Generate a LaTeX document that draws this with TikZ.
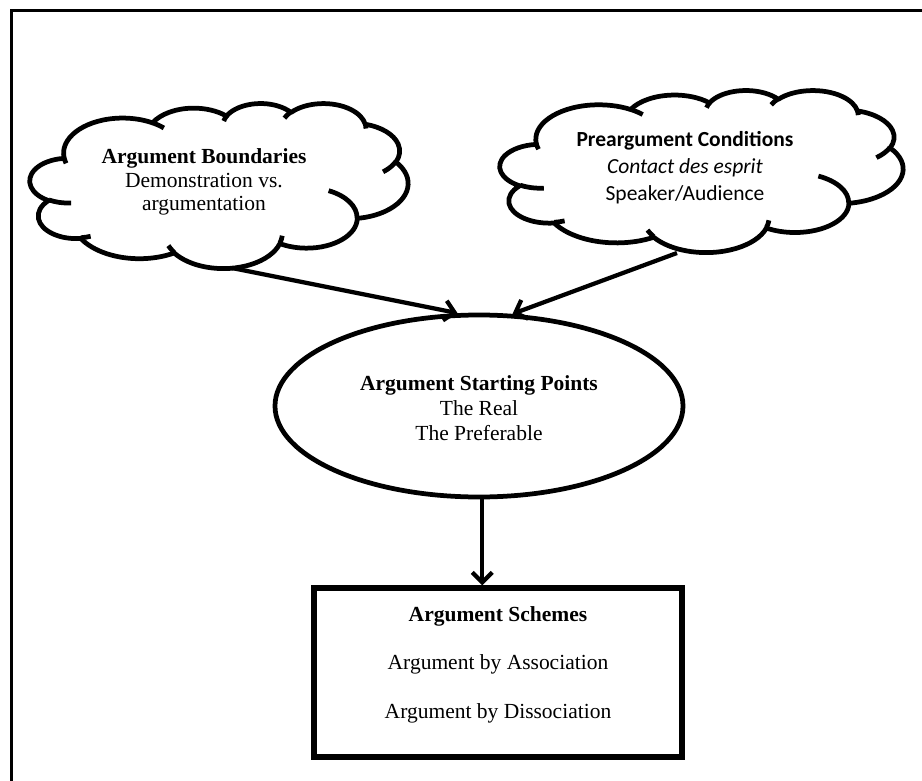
\documentclass[tikz,border=0pt]{standalone}
\usepackage{fontspec}
\setmainfont{Liberation Serif}
\newfontfamily\calibri{Carlito}
\usetikzlibrary{arrows.meta,shapes.geometric}

% One arc of a cloud outline: radii in path units (432 across),
% start and sweep given as angles seen on the ellipse.
\newcommand\cloudarc[4]{%
  \pgfmathsetmacro\cloudA{atan2((#1)*sin(#3),(#2)*cos(#3))}%
  \pgfmathsetmacro\cloudB{atan2((#1)*sin((#3)+(#4)),(#2)*cos((#3)+(#4)))}%
  \pgfmathsetmacro\cloudB{\cloudB+360*round(((#4)-(\cloudB-\cloudA))/360)}%
  \pgfpatharcaxes{\cloudA}{\cloudB}{\pgfpointxy{#1}{0}}{\pgfpointxy{0}{#2}}%
}
% A short inner curl: start point, then its arc
\newcommand\cloudcurl[6]{%
  \pgfpathmoveto{\pgfpointxy{#1}{#2}}\cloudarc{#3}{#4}{#5}{#6}}

% Cloud in a frame: left, top, width, height (pt, top measured downward)
\newcommand\drawcloud[4]{%
  \begin{pgfscope}
    \pgftransformshift{\pgfpoint{#1pt}{-#2pt}}%
    \pgfsetxvec{\pgfpoint{#3pt/432}{0pt}}%
    \pgfsetyvec{\pgfpoint{0pt}{-#4pt/432}}%
    \pgfsetlinewidth{4.75pt}%
    \pgfsetroundjoin
    \pgfsetfillcolor{white}%
    \pgfpathmoveto{\pgfpointxy{39}{143.7}}%
    \cloudarc{67.53}{91.90}{-190.48748}{123.78053}%
    \cloudarc{53.33}{72.67}{-144.10238}{89.94523}%
    \cloudarc{43.65}{59.45}{-145.80792}{99.72302}%
    \cloudarc{48.57}{65.95}{-130.98607}{117.24173}%
    \cloudarc{53.33}{72.73}{-78.70888}{109.02692}%
    \cloudarc{67.75}{92.20}{-46.26725}{130.26900}%
    \cloudarc{57.85}{78.67}{0.62502}{114.03333}%
    \cloudarc{67.52}{92.15}{22.45160}{115.17255}%
    \cloudarc{77.20}{105.43}{66.24263}{75.71102}%
    \cloudarc{43.60}{59.18}{-274.94208}{146.73557}%
    \cloudarc{43.45}{59.45}{-246.82850}{152.51885}%
    \pgfpathclose
    \pgfusepath{fill,stroke}%
    \cloudcurl{46.93}{261.77}{43.45}{59.45}{86.74200}{26.42950}%
    \cloudcurl{69.28}{348.99}{43.60}{59.18}{73.61047}{11.44747}%
    \cloudcurl{164.78}{390.90}{67.52}{92.15}{137.62415}{14.08110}%
    \cloudcurl{288.27}{347.51}{67.52}{92.15}{6.45327}{15.99835}%
    \cloudcurl{341.29}{229.54}{57.85}{78.67}{-70.29235}{70.91737}%
    \cloudcurl{417.98}{153.54}{53.33}{72.73}{30.31803}{27.75150}%
    \cloudcurl{383.24}{54.26}{48.57}{65.95}{-13.74433}{14.85890}%
    \cloudcurl{290.78}{39.52}{48.57}{65.95}{-149.18145}{18.19537}%
    \cloudcurl{221.41}{47.20}{43.65}{59.45}{-163.49427}{17.68635}%
    \cloudcurl{140.00}{51.92}{67.53}{91.90}{-66.70695}{12.31935}%
    \cloudcurl{41.27}{157.89}{67.53}{91.90}{157.65435}{11.85817}%
    \pgfusepath{stroke}%
  \end{pgfscope}}

\tikzset{
  txt/.style={align=center, inner sep=0pt},
  serif/.style={font=\fontsize{21.5}{#1}\selectfont},
  conn/.style={line width=4.25pt, -{Straight Barb[length=10pt,width=20pt]}},
}

\begin{document}
\begin{tikzpicture}[x=1pt, y=-1pt]
  \useasboundingbox (0,0) rectangle (922,781);

  % page rule along the top and left
  \draw[line width=3pt] (922,11) -- (11,11) -- (11,781);

  % clouds
  \drawcloud{30}{103}{378}{165}
  \drawcloud{500}{90}{403}{162}
  \node[txt, serif=23.3] (bnd) at (204,182)
    {\textbf{Argument Boundaries}\\Demonstration vs.\\argumentation};
  \node[txt, font=\calibri\fontsize{21.5}{27}\selectfont] (pre) at (685,168)
    {\textbf{Preargument Conditions}\\\textit{Contact des esprit}\\Speaker/Audience};

  % starting points
  \node[ellipse, draw, line width=4.75pt, fill=white,
        minimum width=408, minimum height=182] (ell) at (479,406) {};
  \node[txt, serif=25] (elltxt) at (479,408)
    {\textbf{Argument Starting Points}\\The Real\\The Preferable};

  % schemes
  \node[draw, line width=5.25pt, minimum width=368, minimum height=169] (sch) at (498,672.5) {};
  \node[txt, serif=48.5] (schtxt) at (498,664.5)
    {\textbf{Argument Schemes}\\Argument by Association\\Argument by Dissociation};

  % connectors
  \coordinate (bndtail) at (232,268);
  \coordinate (pretail) at (677,253);
  \draw[conn] (bndtail) -- (ell.103.6);
  \draw[conn] (pretail) -- (ell.70);
  \draw[conn] (ell.-88) -- (sch.north -| ell.-88);
\end{tikzpicture}
\end{document}
